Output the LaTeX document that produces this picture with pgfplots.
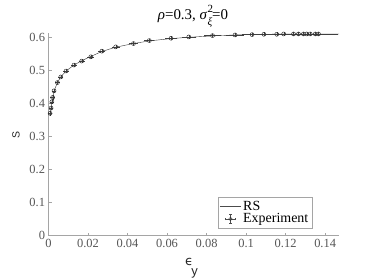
\documentclass[border=0pt]{standalone}
\usepackage{pgfplots}
\pgfplotsset{compat=1.18}
\usepackage{fontspec}
\setmainfont{Liberation Serif}
\setsansfont{Liberation Sans}
\newfontfamily\dejavu{DejaVu Sans}
\definecolor{axgray}{RGB}{165,165,165}
\definecolor{labgray}{RGB}{85,85,85}
\pgfplotstableread{
x y ex ey
0.0008 0.370 0.0003 0.003
0.0013 0.386 0.0004 0.003
0.0017 0.405 0.0004 0.003
0.0021 0.418 0.0005 0.003
0.0028 0.438 0.0005 0.003
0.0045 0.463 0.0006 0.002
0.0062 0.480 0.0007 0.002
0.0089 0.498 0.0008 0.002
0.0129 0.516 0.0009 0.002
0.0168 0.528 0.0010 0.002
0.0214 0.541 0.0011 0.002
0.0270 0.558 0.0012 0.002
0.0340 0.571 0.0014 0.002
0.0430 0.581 0.0017 0.002
0.0510 0.590 0.0020 0.002
0.0620 0.597 0.0024 0.002
0.0710 0.601 0.0030 0.002
0.0830 0.605 0.0035 0.002
0.0944 0.607 0.0040 0.002
0.1030 0.608 0.0045 0.002
0.1090 0.609 0.0050 0.002
0.1155 0.609 0.0055 0.002
0.1190 0.610 0.0060 0.002
0.1240 0.610 0.0065 0.002
0.1265 0.610 0.0070 0.002
0.1290 0.610 0.0075 0.002
0.1307 0.610 0.0080 0.002
0.1324 0.610 0.0085 0.002
0.1350 0.610 0.0090 0.002
0.1366 0.610 0.0095 0.002
}\expdata
\pgfplotstableread{
x y
0.0006 0.365
0.0008 0.370
0.0013 0.387
0.0017 0.404
0.0021 0.418
0.0028 0.437
0.0045 0.463
0.0062 0.480
0.0089 0.498
0.0129 0.516
0.0168 0.529
0.0214 0.542
0.0270 0.557
0.0340 0.570
0.0430 0.581
0.0510 0.589
0.0620 0.596
0.0710 0.600
0.0830 0.604
0.0944 0.607
0.1090 0.609
0.1240 0.610
0.1366 0.610
0.1470 0.610
}\rsdata
\begin{document}
\begin{tikzpicture}
\path[use as bounding box] (-48.5bp,-44.3bp) rectangle (325.5bp,235.7bp);
\begin{axis}[
  at={(0,0)}, anchor=south west,
  scale only axis, width=290.5bp, height=202.4bp,
  xmin=0, xmax=0.147, ymin=0, ymax=0.612,
  axis x line*=bottom, axis y line*=left,
  axis line style={axgray, -, line width=0.6bp},
  tick align=inside, major tick length=3bp,
  tick style={axgray, line width=0.5bp},
  xtick={0,0.02,0.04,0.06,0.08,0.1,0.12,0.14},
  xticklabels={0,0.02,0.04,0.06,0.08,0.1,0.12,0.14},
  ytick={0,0.1,0.2,0.3,0.4,0.5,0.6},
  yticklabels={0,0.1,0.2,0.3,0.4,0.5,0.6},
  ticklabel style={font=\fontsize{12.5}{13}\selectfont, text=labgray},
  legend style={at={(0.907,0.038)}, anchor=south east, draw=axgray,
    fill=white, font=\fontsize{14}{15}\selectfont, inner sep=1.5bp,
    row sep=-2bp, legend cell align=left},
  clip=false,
]
\addplot[black!80, line width=0.4bp,
  legend image code/.code={\draw[black!70, line width=0.4bp] (0cm,0cm)--(0.75cm,0cm);}]
  table[x=x,y=y] {\rsdata};
\addlegendentry{RS}
\addplot[black!85, line width=0.3bp, only marks, mark=o, mark size=2bp,
  mark options={line width=0.45bp, fill=white},
  legend image code/.code={
    \draw[black!70, line width=0.3bp] (0.2cm,0cm)--(0.55cm,0cm);
    \draw[black!70, line width=0.3bp] (0.375cm,-0.16cm)--(0.375cm,0.16cm);
    \draw[black!70, line width=0.3bp] (0.2cm,-0.04cm)--(0.2cm,0.04cm);
    \draw[black!70, line width=0.3bp] (0.55cm,-0.04cm)--(0.55cm,0.04cm);
    \draw[black!70, line width=0.3bp] (0.335cm,-0.16cm)--(0.415cm,-0.16cm);
    \draw[black!70, line width=0.3bp] (0.335cm,0.16cm)--(0.415cm,0.16cm);
    \draw[black!80, line width=0.4bp] (0.375cm,0cm) circle (1.8bp);
  },
  error bars/.cd, x dir=both, x explicit, y dir=both, y explicit,
  error bar style={line width=0.3bp, black!75}, error mark options={line width=0.3bp, mark size=1.2bp, black!75}]
  table[x=x, y=y, x error=ex, y error=ey] {\expdata};
\addlegendentry{Experiment}
\end{axis}
\node[font=\fontsize{15}{16}\selectfont, inner sep=0pt] at (144.5bp,219.5bp)
  {\textit{ρ}=0.3, \textit{σ}\rlap{\raisebox{6.5bp}{\fontsize{11}{11}\selectfont 2}}\raisebox{-6bp}{\fontsize{11}{11}\selectfont\itshape ξ}=0};
\node[inner sep=0pt, font=\dejavu\fontsize{13}{14}\selectfont, text=black!85] at (140.5bp,-26.5bp) {ϵ};
\node[inner sep=0pt, font=\sffamily\fontsize{13}{14}\selectfont, text=black!85] at (146bp,-37.5bp) {y};
\node[font=\sffamily\fontsize{10.5}{12}\selectfont, rotate=90, inner sep=0pt, text=black!85] at (-32.5bp,101bp) {S};
\end{tikzpicture}
\end{document}
